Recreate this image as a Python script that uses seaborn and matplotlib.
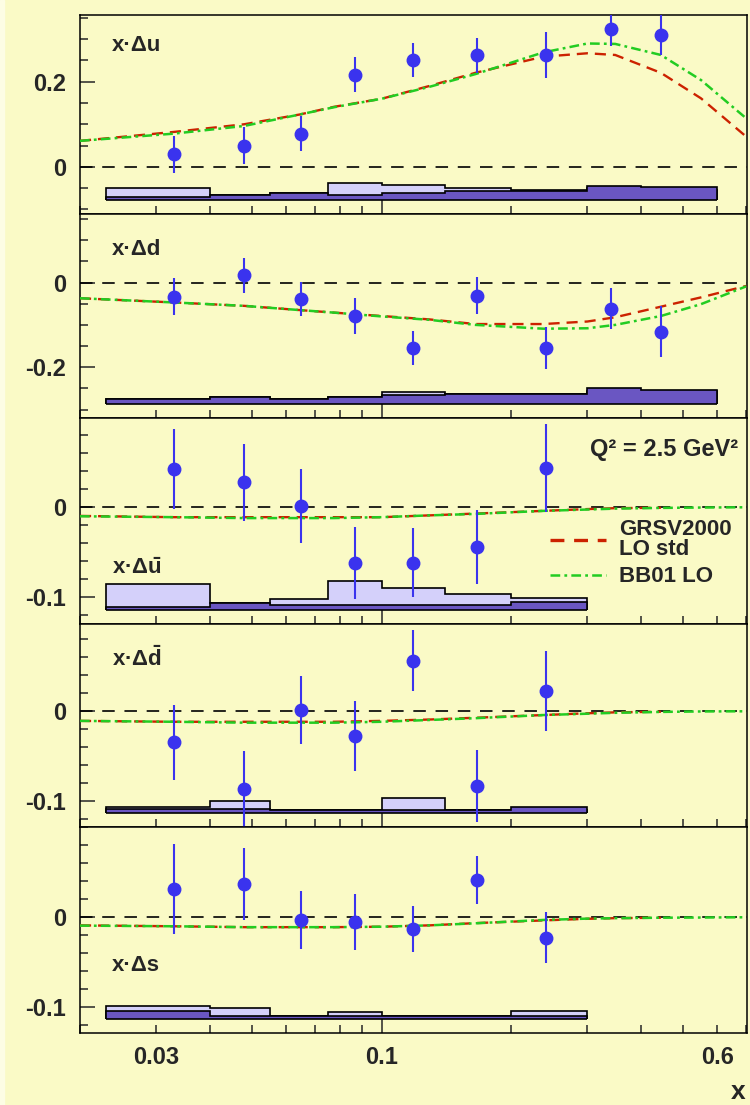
import matplotlib
matplotlib.use("Agg")
import matplotlib.pyplot as plt
import numpy as np
import pandas as pd
import seaborn as sns
from matplotlib.ticker import FixedLocator, NullFormatter
from matplotlib.lines import Line2D

# bin edges and mean x of the measured points
bin_edges = [0.023, 0.04, 0.055, 0.075, 0.1, 0.14, 0.2, 0.3, 0.4, 0.6]
x_pts = [0.033, 0.048, 0.065, 0.087, 0.118, 0.166, 0.24, 0.34, 0.445]

# measured points (value, stat error)
du_val = [0.029, 0.050, 0.078, 0.217, 0.252, 0.262, 0.264, 0.323, 0.311]
du_err = [0.044, 0.043, 0.042, 0.042, 0.040, 0.041, 0.054, 0.038, 0.048]
dd_val = [-0.033, 0.017, -0.039, -0.079, -0.155, -0.031, -0.154, -0.062, -0.116]
dd_err = [0.043, 0.042, 0.040, 0.042, 0.040, 0.043, 0.050, 0.048, 0.060]
dub_val = [0.0426, 0.0278, 0.0015, -0.062, -0.0615, -0.0437, 0.044]
dub_err = [0.044, 0.043, 0.041, 0.040, 0.038, 0.041, 0.049]
ddb_val = [-0.035, -0.087, 0.001, -0.028, 0.0558, -0.0836, 0.0223]
ddb_err = [0.042, 0.042, 0.038, 0.039, 0.034, 0.040, 0.045]
ds_val = [0.0315, 0.0367, -0.003, -0.0056, -0.013, 0.0415, -0.0226]
ds_err = [0.050, 0.040, 0.032, 0.031, 0.026, 0.027, 0.028]

# systematic error bands (two components) and their baselines
du_sys1 = [0.029, 0.012, 0.016, 0.039, 0.035, 0.027, 0.024, 0.027, 0.024]
du_sys2 = [0.008, 0.012, 0.016, 0.012, 0.017, 0.020, 0.022, 0.034, 0.030]
dd_sys1 = [0.0126, 0.0157, 0.0126, 0.0157, 0.0276, 0.0236, 0.0236, 0.031, 0.031]
dd_sys2 = [0.0126, 0.0157, 0.0126, 0.0157, 0.0205, 0.0236, 0.0236, 0.0378, 0.0339]
dub_sys1 = [0.0289, 0.0081, 0.0126, 0.0319, 0.0248, 0.0178, 0.013]
dub_sys2 = [0.0037, 0.0081, 0.0056, 0.0056, 0.0056, 0.0056, 0.0085]
ddb_sys1 = [0.0067, 0.0138, 0.0037, 0.0037, 0.0175, 0.0037, 0.0037]
ddb_sys2 = [0.0048, 0.0048, 0.0037, 0.0037, 0.0037, 0.0037, 0.0067]
ds_sys1 = [0.0141, 0.0122, 0.003, 0.0078, 0.0033, 0.003, 0.0093]
ds_sys2 = [0.0093, 0.0037, 0.003, 0.003, 0.0033, 0.003, 0.0037]
sys_base = [-0.078, -0.287, -0.114, -0.114, -0.113]

# parametrisations
x_curve = [0.02, 0.033, 0.048, 0.0646, 0.0775, 0.1, 0.129, 0.165, 0.237, 0.30, 0.348, 0.444, 0.55, 0.7]
du_bb = [0.061, 0.078, 0.096, 0.123, 0.140, 0.160, 0.188, 0.218, 0.269, 0.290, 0.289, 0.263, 0.204, 0.114]
du_grsv = [0.061, 0.082, 0.100, 0.123, 0.141, 0.160, 0.190, 0.221, 0.259, 0.267, 0.263, 0.221, 0.161, 0.071]
dd_bb = [-0.037, -0.047, -0.055, -0.065, -0.071, -0.080, -0.088, -0.100, -0.109, -0.108, -0.100, -0.079, -0.051, -0.009]
dd_grsv = [-0.037, -0.047, -0.055, -0.065, -0.071, -0.079, -0.087, -0.098, -0.098, -0.092, -0.082, -0.057, -0.035, -0.008]
dub_bb = [-0.010, -0.011, -0.012, -0.012, -0.012, -0.011, -0.009, -0.0074, -0.004, -0.0025, -0.0015, -0.0007, -0.0003, 0.0]
dub_grsv = [-0.0096, -0.011, -0.011, -0.011, -0.011, -0.011, -0.009, -0.007, -0.004, -0.002, -0.001, -0.0005]
ddb_bb = [-0.011, -0.012, -0.013, -0.013, -0.013, -0.012, -0.010, -0.008, -0.0045, -0.003, -0.002, -0.001, -0.0005, -0.0003]
ddb_grsv = [-0.011, -0.012, -0.012, -0.012, -0.012, -0.011, -0.0095, -0.0075, -0.0045, -0.0025, -0.0015, -0.0008]
ds_bb = [-0.0093, -0.010, -0.011, -0.011, -0.011, -0.0105, -0.009, -0.0067, -0.003, -0.0015, -0.001, -0.0005, -0.0003, 0.0]
ds_grsv = [-0.009, -0.010, -0.011, -0.011, -0.011, -0.0105, -0.009, -0.0065, -0.0035, -0.0017, -0.001, -0.0005]

labels = ["x·Δu", "x·Δd", r"x·Δ$\bar{\mathbf{u}}$", r"x·Δ$\bar{\mathbf{d}}$", "x·Δs"]
ylims = [(-0.111, 0.357), (-0.32, 0.162), (-0.1297, 0.0992), (-0.1293, 0.097), (-0.1286, 0.1003)]
yticks = [[0, 0.2], [-0.2, 0], [-0.1, 0], [-0.1, 0], [-0.1, 0]]
ytick_lab = [["0", "0.2"], ["-0.2", "0"], ["-0.1", "0"], ["-0.1", "0"], ["-0.1", "0"]]
ystep = [0.05, 0.05, 0.02, 0.02, 0.02]

bg = "#FAFAC6"
blue = "#3A33EE"
red = "#CC2200"
green = "#22CC22"
light = "#D4D0FA"
dark = "#6A56C2"

sns.set_style("ticks")
plt.rcParams["font.family"] = ["Liberation Sans", "DejaVu Sans"]
plt.rcParams["font.weight"] = "bold"
plt.rcParams["mathtext.fontset"] = "custom"
plt.rcParams["mathtext.rm"] = "Liberation Sans:bold"
plt.rcParams["mathtext.bf"] = "Liberation Sans:bold"
plt.rcParams["mathtext.it"] = "Liberation Sans:bold"
plt.rcParams["lines.scale_dashes"] = False

fig = plt.figure(figsize=(7.5, 11.05), dpi=100, facecolor=bg)
fig.patches.append(plt.Rectangle((0, 0), 4 / 750, 1, transform=fig.transFigure,
                                 color="#FDFDE4", zorder=-1))

tops = [15, 214, 418, 624, 827]
bots = [214, 418, 624, 827, 1033]

panels = [
    (x_pts, du_val, du_err, du_sys1, du_sys2, du_bb, du_grsv),
    (x_pts, dd_val, dd_err, dd_sys1, dd_sys2, dd_bb, dd_grsv),
    (x_pts[:7], dub_val, dub_err, dub_sys1, dub_sys2, dub_bb, dub_grsv),
    (x_pts[:7], ddb_val, ddb_err, ddb_sys1, ddb_sys2, ddb_bb, ddb_grsv),
    (x_pts[:7], ds_val, ds_err, ds_sys1, ds_sys2, ds_bb, ds_grsv),
]
lab_pos = [(0.048, 0.849), (0.048, 0.828), (0.048, 0.27), (0.048, 0.83), (0.048, 0.33)]

for i, (xp, val, err, s1, s2, bb, grsv) in enumerate(panels):
    ax = fig.add_axes([80 / 750, 1 - bots[i] / 1105, 667 / 750, (bots[i] - tops[i]) / 1105])
    ax.set_facecolor(bg)
    ax.set_xscale("log")
    ax.set_xlim(0.02, 0.703)
    ax.set_ylim(*ylims[i])

    nb = len(s1)
    edges = np.array(bin_edges[:nb + 1])
    base = sys_base[i]
    ax.stairs(base + np.array(s1), edges, baseline=base, fill=True, color=light, zorder=2)
    ax.stairs(base + np.array(s1), edges, baseline=base, color="black", lw=1.2, zorder=2)
    ax.stairs(base + np.array(s2), edges, baseline=base, fill=True, color=dark, zorder=3)
    ax.stairs(base + np.array(s2), edges, baseline=base, color="black", lw=1.2, zorder=3)
    ax.hlines(base, edges[0], edges[-1], color="black", lw=1.2, zorder=3)

    ax.axhline(0, color="black", lw=1.2, linestyle=(0, (9, 7)), zorder=1)

    d_bb = pd.DataFrame({"x": x_curve[:len(bb)], "y": bb})
    d_gr = pd.DataFrame({"x": x_curve[:len(grsv)], "y": grsv})
    sns.lineplot(data=d_gr, x="x", y="y", ax=ax, color=red, lw=1.7,
                 linestyle=(0, (8, 5)), estimator=None, sort=False, zorder=4)
    sns.lineplot(data=d_bb, x="x", y="y", ax=ax, color=green, lw=1.8,
                 linestyle=(0, (7, 3, 2, 3)), estimator=None, sort=False, zorder=5)

    ax.errorbar(xp, val, yerr=err, fmt="o", color=blue, ms=9, elinewidth=1.5,
                capsize=0, zorder=6)

    ax.text(*lab_pos[i], labels[i], transform=ax.transAxes, fontsize=16,
            fontweight="bold", va="center", ha="left")

    # axes styling
    for sp in ax.spines.values():
        sp.set_color("black")
        sp.set_linewidth(1.1)
    ax.set_yticks(yticks[i])
    ax.set_yticklabels(ytick_lab[i])
    lo, hi = ylims[i]
    mt = np.arange(np.ceil(lo / ystep[i]) * ystep[i], hi, ystep[i])
    ax.yaxis.set_minor_locator(FixedLocator(mt))
    ax.tick_params(axis="y", which="major", direction="in", length=11, width=1.1,
                   labelsize=17, pad=10, left=True, right=False)
    ax.tick_params(axis="y", which="minor", direction="in", length=6, width=1.1,
                   left=True, right=False)

    ax.set_xticks([0.03, 0.1, 0.6])
    ax.xaxis.set_minor_locator(FixedLocator([0.02, 0.04, 0.05, 0.06, 0.07, 0.08, 0.09,
                                             0.2, 0.3, 0.4, 0.5, 0.7]))
    ax.xaxis.set_minor_formatter(NullFormatter())
    ax.tick_params(axis="x", which="both", direction="in", length=6, width=1.1,
                   bottom=True, top=False, labelsize=17, pad=9)
    ax.xaxis.get_major_ticks()[1].tick1line.set_markersize(11)
    if i < 4:
        ax.set_xticklabels([])
    else:
        ax.set_xticklabels(["0.03", "0.1", "0.6"])
    ax.set_xlabel("")
    ax.set_ylabel("")

    if i == 2:
        ax.text(0.987, 0.845, "Q² = 2.5 GeV²", transform=ax.transAxes, fontsize=17,
                fontweight="bold", ha="right", va="center")
        handles = [Line2D([], [], color=red, lw=2.4, linestyle=(0, (10, 7))),
                   Line2D([], [], color=green, lw=1.8, linestyle=(0, (7, 3, 2, 3)))]
        leg = ax.legend(handles, ["GRSV2000\nLO std", "BB01 LO"], loc="upper left",
                        bbox_to_anchor=(0.705, 0.51), frameon=False, fontsize=16,
                        handlelength=2.5, handletextpad=0.6, labelspacing=0.3,
                        borderpad=0, borderaxespad=0)
        for t in leg.get_texts():
            t.set_linespacing(0.92)
            t.set_fontweight("bold")

fig.text(738 / 750, 1 - 1092 / 1105, "x", fontsize=19, fontweight="bold",
         ha="center", va="center")

fig.savefig("out.png", dpi=100, facecolor=bg)
